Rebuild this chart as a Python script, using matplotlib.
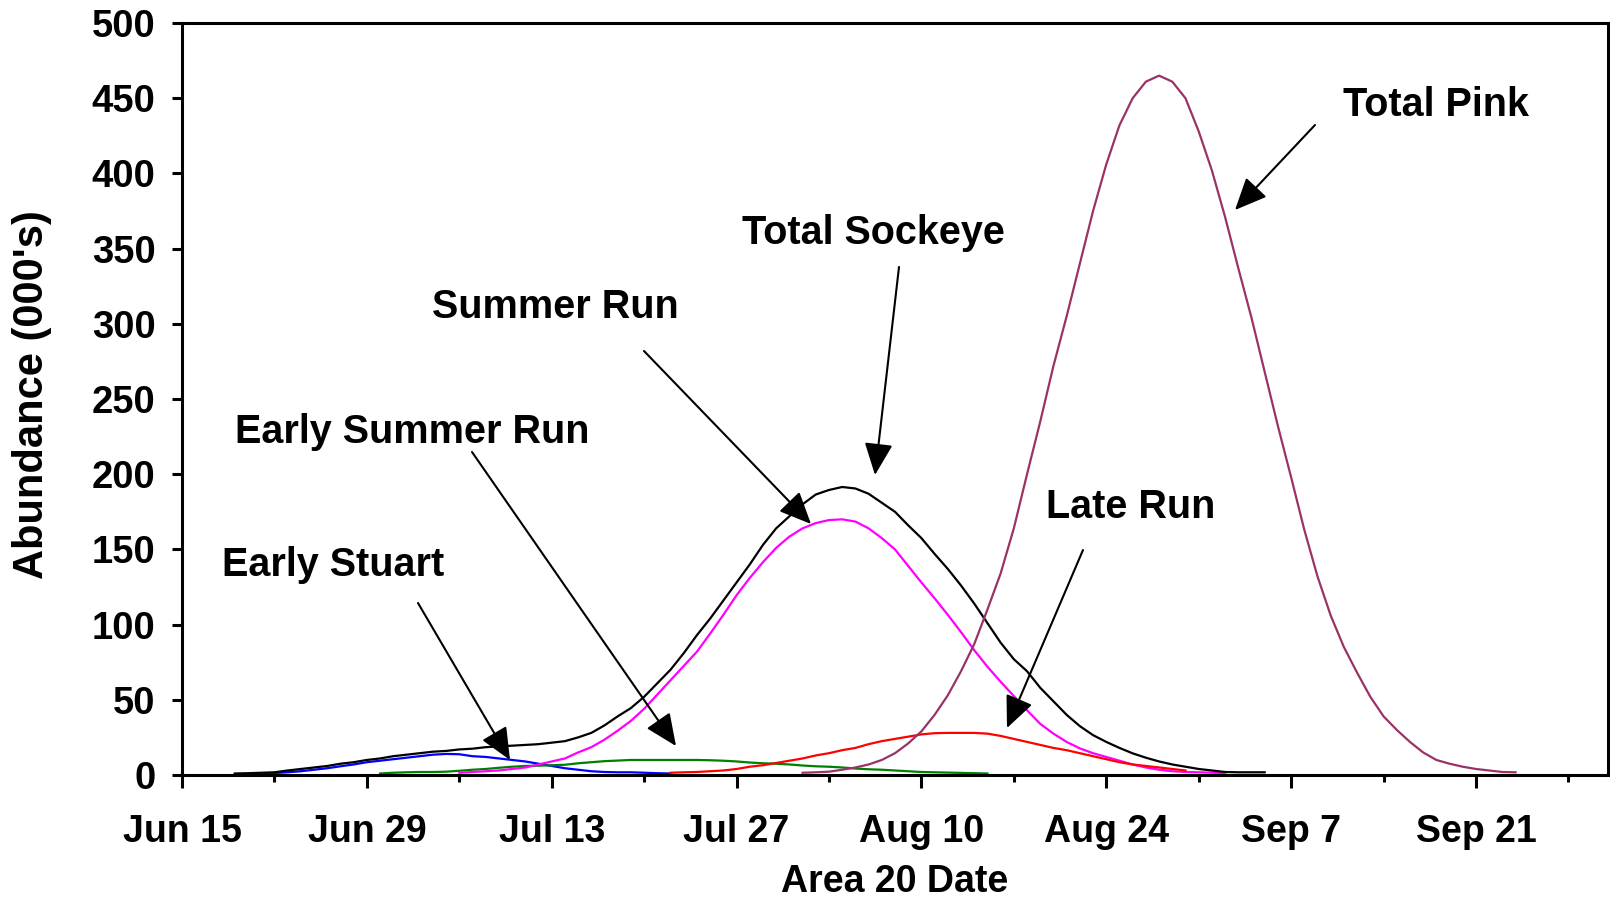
import numpy as np
import matplotlib
matplotlib.use("Agg")
import matplotlib.pyplot as plt

plt.rcParams['font.family'] = ['Liberation Sans', 'DejaVu Sans']
plt.rcParams['font.weight'] = 'bold'

# ---- data (days after Jun 15, daily values in thousands) ----
tick_labels = ["Jun 15", "Jun 29", "Jul 13", "Jul 27", "Aug 10", "Aug 24", "Sep 7", "Sep 21"]

early_stuart_start = 4
early_stuart = [0.5, 0.7, 1, 1.3, 1.8, 2.5, 3.5, 4.5, 5.8, 7, 8.5, 9.5, 10.5, 11.5, 12.5, 13.5,
                14, 13.8, 12.5, 12, 11, 10, 9, 7.5, 6, 4.5, 3.5, 2.5, 2, 1.8, 1.8, 1.5, 1.2, 1]

early_summer_start = 15
early_summer = [1, 1.5, 1.8, 2, 2, 2.2, 2.8, 3.5, 4, 4.8, 5.5, 6, 6.2, 6.5, 6.8, 7.8, 8.5, 9.2,
                9.6, 10, 10, 10, 10, 10, 10, 9.8, 9.5, 9, 8.3, 7.8, 7.5, 7, 6.3, 5.8, 5.5, 5,
                4.3, 3.8, 3.5, 3, 2.5, 2, 1.8, 1.6, 1.4, 1.2, 1]

summer_run_start = 21
summer_run = [1.5, 2, 2.5, 3, 4, 5, 7, 9, 11, 15, 18.5, 23.5, 29.5, 36, 44, 53.5, 63, 72.5, 82,
              94, 106.5, 119.5, 131, 141.5, 151, 158.5, 164, 167.5, 169.5, 170, 168.5, 164,
              157.5, 150, 139, 128, 117.5, 106.5, 95, 83, 72, 62, 52.5, 43, 34, 27.5, 22,
              17.7, 14.5, 12, 9.5, 7, 5, 3.5, 2.5, 2, 1.8, 1.5, 1.2]

late_run_start = 37
late_run = [1.5, 1.8, 2, 2.5, 3, 4, 5.5, 6.5, 8, 9.5, 11, 13, 14.5, 16.5, 18, 20.5, 22.5, 24,
            25.5, 27, 27.8, 28, 28, 28, 27.5, 26, 24, 22, 20, 18, 16.5, 14.5, 12.5, 10.5, 8.5,
            7, 6, 5, 4, 3]

total_sockeye_start = 4
total_sockeye = [1, 1.2, 1.5, 1.8, 3, 4, 5, 6, 7.5, 8.5, 10, 11, 12.5, 13.5, 14.5, 15.5, 16, 17,
                 17.5, 18.5, 19, 19.5, 20, 20.5, 21.5, 22.5, 25, 28, 33, 39, 44.5, 52, 61, 70,
                 81, 93, 104, 116, 128, 140, 153, 164, 172, 180, 186.5, 189.5, 191.5, 190.5,
                 187, 181, 175, 166, 157.5, 147, 137, 126, 114, 101, 88, 77, 69, 58, 49, 40,
                 32.5, 26.5, 22, 18, 14.4, 11.5, 9, 7, 5.5, 4, 3, 2, 1.8, 1.8, 1.8]

total_pink_start = 47
total_pink = [1.5, 1.8, 2.2, 3.5, 5, 7, 10, 14.5, 21, 29, 40, 53, 69, 87, 110, 134, 164, 200,
              235, 272, 305, 340, 375, 406, 432, 450, 461, 465, 461, 450, 428, 402, 371, 337,
              304, 268, 232, 198, 163, 132, 106, 85, 68, 52, 39, 30, 22, 15, 10, 7.5, 5.5, 4,
              3, 2, 1.8]

series = [
    (early_stuart_start, early_stuart, "#0000FF"),
    (early_summer_start, early_summer, "#008000"),
    (summer_run_start, summer_run, "#FF00FF"),
    (late_run_start, late_run, "#FF0000"),
    (total_sockeye_start, total_sockeye, "#000000"),
    (total_pink_start, total_pink, "#993366"),
]

W, H = 1610, 897
fig = plt.figure(figsize=(W / 100, H / 100), dpi=100)
L, R, T, B = 182, 1608, 23, 775
ax = fig.add_axes([L / W, 1 - B / H, (R - L) / W, (B - T) / H])

for start, vals, col in series:
    x = start + np.arange(len(vals))
    ax.plot(x, vals, color=col, lw=1.6, solid_joinstyle='round')

ax.set_xlim(0, 108)
ax.set_ylim(0, 500)
ax.set_xticks(np.arange(0, 99, 14))
ax.set_xticklabels(tick_labels)
ax.set_xticks(np.arange(7, 108, 14), minor=True)
ax.set_yticks(np.arange(0, 501, 50))

for s in ax.spines.values():
    s.set_linewidth(2.2)
ax.tick_params(axis='x', which='major', direction='out', length=9, width=2.2,
               labelsize=27, pad=19)
ax.tick_params(axis='x', which='minor', direction='out', length=5, width=2.2)
ax.tick_params(axis='y', which='major', direction='out', length=7, width=2.2,
               labelsize=27.5, pad=12)

fig.text(895 / W, 1 - 892 / H, "Area 20 Date", ha='center', va='baseline',
         fontsize=27, fontweight='bold')
fig.text(32 / W, 1 - 395 / H, "Abundance (000's)", ha='center', va='center',
         rotation=90, fontsize=30, fontweight='bold')


def P(px, py):
    return ((px - L) / (R - L) * 108, (B - py) / (B - T) * 500)


labels = [
    ("Total Pink", (1436, 105), (1315, 125), (1235, 210)),
    ("Total Sockeye", (873, 233), (899, 267), (875, 475)),
    ("Summer Run", (555, 307), (644, 351), (811, 524)),
    ("Early Summer Run", (412, 432), (472, 452), (676, 746)),
    ("Early Stuart", (333, 565), (418, 603), (510, 760)),
    ("Late Run", (1131, 507), (1083, 550), (1007, 728)),
]
for txt, tp, sp, ep in labels:
    ax.text(*P(*tp), txt, ha='center', va='center', fontsize=28.5, fontweight='bold')
    ax.annotate('', xy=P(*ep), xytext=P(*sp),
                arrowprops=dict(arrowstyle='-|>,head_length=0.9,head_width=0.4',
                                mutation_scale=22, lw=1.5, color='black',
                                shrinkA=0, shrinkB=0))

fig.savefig("out.png", dpi=100)
